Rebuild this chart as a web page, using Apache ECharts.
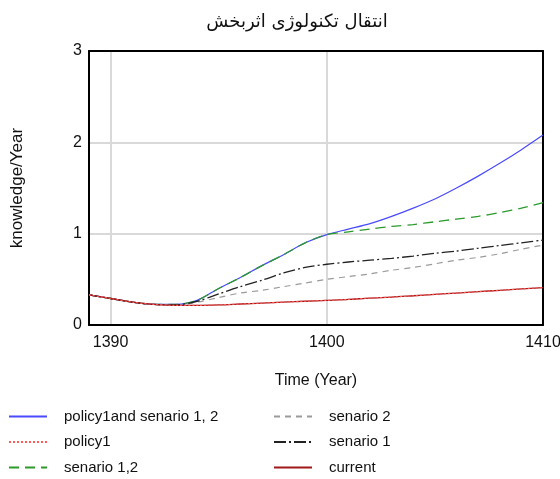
<!DOCTYPE html>
<html>
<head>
<meta charset="utf-8">
<script src="https://cdn.jsdelivr.net/npm/echarts@6/dist/echarts.min.js"></script>
<style>
  html, body { margin: 0; padding: 0; background: #fff; }
  #chart { width: 560px; height: 479px; }
</style>
</head>
<body>
<div id="chart"></div>
<script>
// Simulation years (Solar Hijri)
const years = [1389, 1390, 1391, 1392, 1393, 1394, 1395, 1396, 1397, 1398, 1399,
               1400, 1401, 1402, 1403, 1404, 1405, 1406, 1407, 1408, 1409, 1410];

// knowledge/Year for each run
const policy1AndSenario12 = [0.33, 0.29, 0.25, 0.225, 0.225, 0.27, 0.40, 0.52, 0.65, 0.77, 0.90,
                             0.99, 1.05, 1.11, 1.19, 1.28, 1.38, 1.50, 1.63, 1.77, 1.92, 2.08];
const policy1 = [0.33, 0.29, 0.25, 0.225, 0.215, 0.215, 0.22, 0.23, 0.24, 0.25, 0.26,
                 0.27, 0.28, 0.295, 0.305, 0.32, 0.335, 0.35, 0.365, 0.38, 0.395, 0.41];
const senario12 = [0.33, 0.29, 0.25, 0.225, 0.225, 0.27, 0.40, 0.52, 0.65, 0.77, 0.90,
                   0.99, 1.02, 1.05, 1.08, 1.10, 1.13, 1.16, 1.19, 1.23, 1.28, 1.34];
const senario2 = [0.33, 0.29, 0.25, 0.225, 0.22, 0.25, 0.30, 0.35, 0.38, 0.42, 0.46,
                  0.50, 0.53, 0.56, 0.60, 0.63, 0.67, 0.71, 0.74, 0.78, 0.83, 0.875];
const senario1 = [0.33, 0.29, 0.25, 0.225, 0.22, 0.26, 0.34, 0.42, 0.49, 0.57, 0.63,
                  0.665, 0.69, 0.71, 0.73, 0.755, 0.785, 0.81, 0.84, 0.87, 0.90, 0.93];
const current = [0.33, 0.29, 0.25, 0.225, 0.215, 0.215, 0.22, 0.23, 0.24, 0.25, 0.26,
                 0.27, 0.28, 0.295, 0.305, 0.32, 0.335, 0.35, 0.365, 0.38, 0.395, 0.41];

const xTicks = [1390, 1400, 1410];
const yTicks = [0, 1, 2, 3];

const font = 'Liberation Sans';
const pairs = arr => years.map((y, i) => [y, arr[i]]);

function lineSeries(name, data, color, type, width) {
  return {
    name, type: 'line', data: pairs(data),
    showSymbol: false, symbol: 'none', smooth: 0.3,
    lineStyle: { color, width, type },
    itemStyle: { color },
    emphasis: { disabled: true },
    animation: false
  };
}

const chart = echarts.init(document.getElementById('chart'), null, { renderer: 'canvas' });

const legendText = {
  fontFamily: font, fontSize: 15, color: '#111',
  padding: [0, 0, 0, 12]
};
const legendCommon = {
  orient: 'vertical', top: 409, padding: 0, height: 70,
  itemWidth: 38, itemHeight: 14, itemGap: 10.5,
  itemStyle: { opacity: 0 },
  textStyle: legendText, selectedMode: false
};

// plain black frame lines on the top and right of the plot box
const frameLine = { show: true, onZero: false, lineStyle: { color: '#000', width: 2 } };

chart.setOption({
  animation: false,
  title: {
    text: 'انتقال تکنولوژی اثربخش',
    left: 292, top: 8, textAlign: 'center',
    textStyle: { fontFamily: 'DejaVu Sans', fontSize: 18, fontWeight: 'normal', color: '#111' }
  },
  grid: {
    left: 89, right: 17, top: 51, bottom: 154,
    show: false, outerBoundsMode: 'none', containLabel: false
  },
  legend: [
    Object.assign({ left: 8, data: ['policy1and senario 1, 2', 'policy1', 'senario 1,2'] }, legendCommon),
    Object.assign({ left: 273, data: ['senario 2', 'senario 1', 'current'] }, legendCommon)
  ],
  xAxis: [
    {
      type: 'value', min: 1389, max: 1410, position: 'bottom',
      name: 'Time (Year)', nameLocation: 'middle', nameGap: 48,
      nameTextStyle: { fontFamily: font, fontSize: 16, color: '#111' },
      axisLine: frameLine,
      axisTick: { show: false, customValues: xTicks },
      axisLabel: {
        customValues: xTicks, margin: 10,
        fontFamily: font, fontSize: 16, color: '#111',
        formatter: v => String(v)
      },
      splitLine: { show: true, lineStyle: { color: '#d9d9d9', width: 2 } }
    },
    {
      type: 'value', min: 1389, max: 1410, position: 'top',
      axisLine: frameLine, axisTick: { show: false },
      axisLabel: { show: false }, splitLine: { show: false }
    }
  ],
  yAxis: [
    {
      type: 'value', min: 0, max: 3, interval: 1, position: 'left',
      name: 'knowledge/Year', nameLocation: 'middle', nameGap: 63,
      nameTextStyle: { fontFamily: font, fontSize: 17, color: '#111' },
      axisLine: frameLine,
      axisTick: { show: false },
      axisLabel: {
        margin: 7, fontFamily: font, fontSize: 16, color: '#111',
        formatter: v => (yTicks.includes(v) ? String(v) : '')
      },
      splitLine: { show: true, lineStyle: { color: '#d9d9d9', width: 2 } }
    },
    {
      type: 'value', min: 0, max: 3, interval: 1, position: 'right',
      axisLine: frameLine, axisTick: { show: false },
      axisLabel: { show: false }, splitLine: { show: false }
    }
  ],
  series: [
    lineSeries('policy1and senario 1, 2', policy1AndSenario12, '#4a4aff', 'solid', 1.2),
    lineSeries('senario 1,2', senario12, '#2a9a2a', [10, 6], 1.3),
    lineSeries('senario 2', senario2, '#9a9a9a', [6, 5], 1.2),
    lineSeries('senario 1', senario1, '#222222', [12, 3, 2, 3], 1.3),
    lineSeries('current', current, '#a01818', 'solid', 1.3),
    lineSeries('policy1', policy1, '#ff5a5a', [2, 2], 1.2)
  ]
});
</script>
</body>
</html>
